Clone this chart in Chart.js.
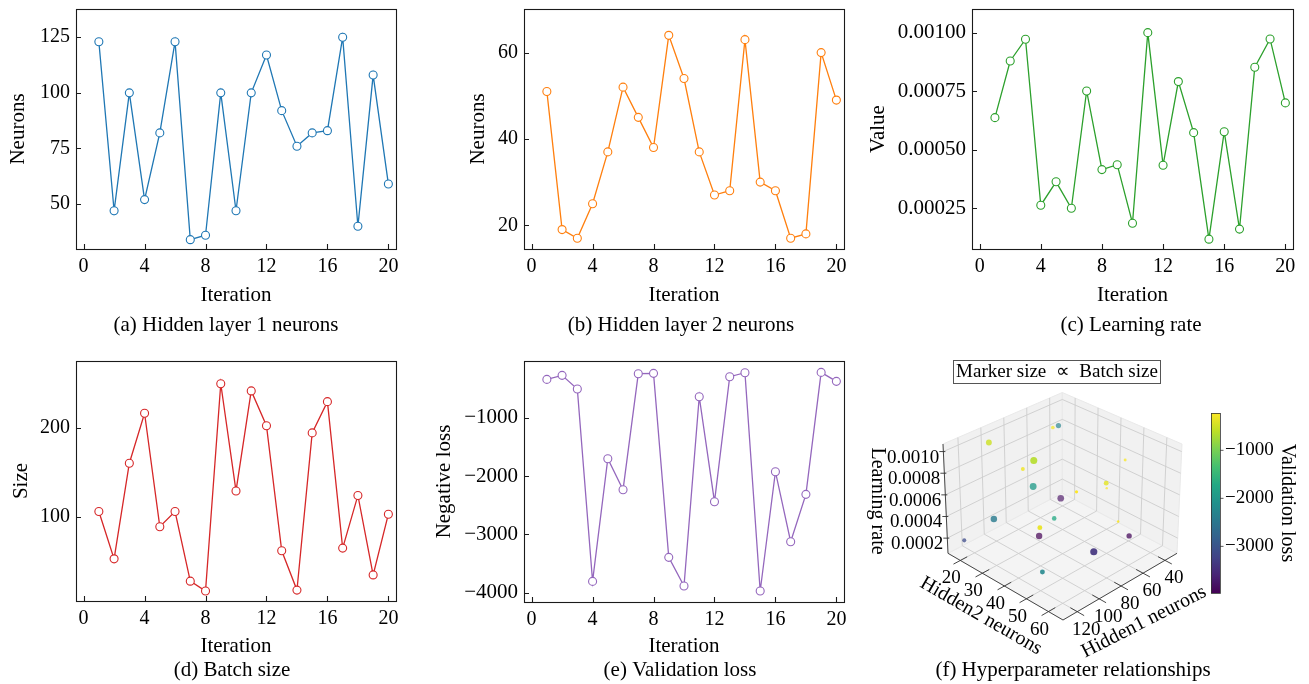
<!DOCTYPE html>
<html>
<head>
<meta charset="utf-8">
<title>Hyperparameter search</title>
<script src="https://cdn.jsdelivr.net/npm/chart.js@4.4.1/dist/chart.umd.min.js"></script>
<style>
  html, body { margin: 0; padding: 0; background: #fff; }
  #wrap { position: relative; width: 1309px; height: 684px; overflow: hidden; }
  #wrap canvas { position: absolute; }
</style>
</head>
<body>
<div id="wrap">
  <canvas id="pa" width="420" height="340" style="left:0;top:0"></canvas>
  <canvas id="pb" width="440" height="340" style="left:420px;top:0"></canvas>
  <canvas id="pc" width="449" height="340" style="left:860px;top:0"></canvas>
  <canvas id="pd" width="420" height="344" style="left:0;top:340px"></canvas>
  <canvas id="pe" width="440" height="344" style="left:420px;top:340px"></canvas>
  <canvas id="pf" width="449" height="344" style="left:860px;top:340px"></canvas>
</div>
<script>
// search history, one entry per iteration
const iterations   = [1, 2, 3, 4, 5, 6, 7, 8, 9, 10, 11, 12, 13, 14, 15, 16, 17, 18, 19, 20];
const hidden1      = [123, 47, 100, 52, 82, 123, 34, 36, 100, 47, 100, 117, 92, 76, 82, 83, 125, 40, 108, 59];
const hidden2      = [51, 19, 17, 25, 37, 52, 45, 38, 64, 54, 37, 27, 28, 63, 30, 28, 17, 18, 60, 49];
const learningRate = [0.000637, 0.000879, 0.000972, 0.000263, 0.000363, 0.00025, 0.000751, 0.000415, 0.000436, 0.000186,
                      0.001, 0.000434, 0.000791, 0.000573, 0.000118, 0.000577, 0.000161, 0.000852, 0.000973, 0.0007];
const batchSize    = [106, 53, 160, 216, 89, 106, 28, 17, 249, 129, 241, 202, 62, 18, 194, 229, 65, 124, 35, 103];
const negLoss      = [-343, -274, -509, -3806, -1703, -2234, -246, -240, -3394, -3886,
                      -640, -2440, -297, -229, -3971, -1926, -3126, -2314, -223, -377];

// tick labels
const iterTicks    = [0, 4, 8, 12, 16, 20];
const hidden1Ticks = [50, 75, 100, 125];
const hidden2Ticks = [20, 40, 60];
const lrTicks      = [0.00025, 0.0005, 0.00075, 0.001];
const batchTicks   = [100, 200];
const lossTicks    = [-4000, -3000, -2000, -1000];
const h1Ticks3d    = [40, 60, 80, 100, 120];
const h2Ticks3d    = [20, 30, 40, 50, 60];
const lrTicks3d    = [0.0002, 0.0004, 0.0006, 0.0008, 0.0010];
const lossBarTicks = [-3000, -2000, -1000];

const SERIF = "'Liberation Serif', 'Times New Roman', Times, serif";
Chart.defaults.font.family = SERIF;
Chart.defaults.color = '#000';

const minus = v => (v < 0 ? '\u2212' : '') + Math.abs(v);

// frame, inward ticks and caption under each panel
const framePlugin = {
  id: 'frame',
  afterDraw(chart, args, opts) {
    const { ctx, chartArea: a, scales } = chart;
    ctx.save();
    ctx.strokeStyle = '#1a1a1a';
    ctx.lineWidth = 1.1;
    ctx.strokeRect(a.left + 0.5, a.top + 0.5, a.right - a.left, a.bottom - a.top);
    ctx.beginPath();
    scales.x.ticks.forEach(t => {
      const px = Math.round(scales.x.getPixelForValue(t.value)) + 0.5;
      ctx.moveTo(px, a.bottom); ctx.lineTo(px, a.bottom - 5);
    });
    scales.y.ticks.forEach(t => {
      const py = Math.round(scales.y.getPixelForValue(t.value)) + 0.5;
      ctx.moveTo(a.left, py); ctx.lineTo(a.left + 5, py);
    });
    ctx.stroke();
    ctx.fillStyle = '#000';
    ctx.font = '21px ' + SERIF;
    ctx.textAlign = 'center';
    ctx.textBaseline = 'middle';
    ctx.fillText(opts.caption, opts.cx, opts.cy);
    ctx.restore();
  }
};

const panels = [
  { id: 'pa', values: hidden1, yTicks: hidden1Ticks, yMin: 29.8, yMax: 137.7, color: '#1f77b4',
    yTitle: 'Neurons', fmt: v => String(v), tickSize: 20, w: 420, h: 340,
    area: { left: 76, right: 396, top: 9, bottom: 249 }, yTitleX: 18, xTitleY: 295,
    caption: '(a) Hidden layer 1 neurons', cap: [226, 325] },
  { id: 'pb', values: hidden2, yTicks: hidden2Ticks, yMin: 14.5, yMax: 70.1, color: '#ff7f0e',
    yTitle: 'Neurons', fmt: v => String(v), tickSize: 20, w: 440, h: 340,
    area: { left: 104, right: 424, top: 9, bottom: 249 }, yTitleX: 58, xTitleY: 295,
    caption: '(b) Hidden layer 2 neurons', cap: [261, 325] },
  { id: 'pc', values: learningRate, yTicks: lrTicks, yMin: 0.000076, yMax: 0.001101, color: '#2ca02c',
    yTitle: 'Value', fmt: v => v.toFixed(5), tickSize: 21, w: 449, h: 340,
    area: { left: 112, right: 433, top: 9, bottom: 249 }, yTitleX: 18, xTitleY: 295,
    caption: '(c) Learning rate', cap: [271, 325] },
  { id: 'pd', values: batchSize, yTicks: batchTicks, yMin: 5.8, yMax: 274.5, color: '#d62728',
    yTitle: 'Size', fmt: v => String(v), tickSize: 20, w: 420, h: 344,
    area: { left: 76, right: 396, top: 21, bottom: 261 }, yTitleX: 21, xTitleY: 306,
    caption: '(d) Batch size', cap: [232, 330] },
  { id: 'pe', values: negLoss, yTicks: lossTicks, yMin: -4159, yMax: -28, color: '#9467bd',
    yTitle: 'Negative loss', fmt: minus, tickSize: 21, w: 440, h: 344,
    area: { left: 104, right: 424, top: 21, bottom: 262 }, yTitleX: 24, xTitleY: 306,
    caption: '(e) Validation loss', cap: [260, 330] }
];

const noGrid = { display: false, drawTicks: false };

panels.forEach(p => {
  new Chart(document.getElementById(p.id), {
    type: 'line',
    data: {
      datasets: [{
        data: iterations.map((it, i) => ({ x: it, y: p.values[i] })),
        borderColor: p.color,
        borderWidth: 1.3,
        pointRadius: 4,
        pointBorderWidth: 1.1,
        pointBorderColor: p.color,
        pointBackgroundColor: '#fff'
      }]
    },
    options: {
      responsive: false,
      animation: false,
      layout: { padding: { left: 0, right: p.w - p.area.right, top: p.area.top, bottom: 0 } },
      scales: {
        x: {
          type: 'linear', min: -0.5, max: 20.5,
          afterBuildTicks: s => { s.ticks = iterTicks.map(v => ({ value: v })); },
          afterFit: s => { s.height = p.h - p.area.bottom; s.paddingLeft = 0; s.paddingRight = 0; },
          grid: noGrid, border: { display: false },
          ticks: { font: { size: 20 }, padding: 6, maxRotation: 0, autoSkip: false, callback: v => String(v) },
          title: { display: true, text: 'Iteration', font: { size: 21 },
                   padding: { top: 0, bottom: p.h - 12.6 - p.xTitleY } }
        },
        y: {
          type: 'linear', min: p.yMin, max: p.yMax,
          afterBuildTicks: s => { s.ticks = p.yTicks.map(v => ({ value: v })); },
          afterFit: s => { s.width = p.area.left; s.paddingTop = 0; s.paddingBottom = 0; },
          grid: noGrid, border: { display: false },
          ticks: { font: { size: p.tickSize }, padding: 6, autoSkip: false, callback: p.fmt },
          title: { display: true, text: p.yTitle, font: { size: 21 },
                   padding: { top: p.yTitleX - 12.6, bottom: 0 } }
        }
      },
      plugins: {
        legend: { display: false },
        tooltip: { enabled: false },
        frame: { caption: p.caption, cx: p.cap[0], cy: p.cap[1] }
      }
    },
    plugins: [framePlugin]
  });
});

// ---- (f) 3D scatter: hidden1 x hidden2 x learning rate ----
const h1Range = [29, 133];
const h2Range = [14.4, 66.6];
const lrRange = [0.00006, 0.00107];
const lossMin = Math.min(...negLoss);
const lossMax = Math.max(...negLoss);

// screen position of each box corner, keyed by (hidden1, hidden2, lr) end
const boxCorners = {
  '000': [202.3, 153.0], '100': [88.0, 213.3], '010': [317.0, 213.3], '110': [203.0, 280.0],
  '001': [202.3, 52.5],  '101': [83.0, 104.0], '011': [322.0, 104.0], '111': [203.0, 161.0]
};

function project(u, v, w) {
  let x = 0, y = 0;
  for (const a of [0, 1]) for (const b of [0, 1]) for (const c of [0, 1]) {
    const wt = (a ? u : 1 - u) * (b ? v : 1 - v) * (c ? w : 1 - w);
    const pt = boxCorners['' + a + b + c];
    x += wt * pt[0];
    y += wt * pt[1];
  }
  return [x, y];
}
const nrm = (val, r) => (val - r[0]) / (r[1] - r[0]);

const viridisStops = ['#440154', '#482475', '#414487', '#355f8d', '#2a788e', '#21918c',
                      '#22a884', '#44bf70', '#7ad151', '#bddf26', '#fde725'];
const hexRgb = h => [1, 3, 5].map(i => parseInt(h.substr(i, 2), 16));
function viridis(t) {
  t = Math.max(0, Math.min(1, t));
  const s = t * 10, i = Math.min(9, Math.floor(s)), f = s - i;
  const a = hexRgb(viridisStops[i]), b = hexRgb(viridisStops[i + 1]);
  return a.map((c, k) => Math.round(c + (b[k] - c) * f));
}

const scenePts = iterations.map((it, i) => {
  const u = nrm(hidden1[i], h1Range), v = nrm(hidden2[i], h2Range), w = nrm(learningRate[i], lrRange);
  const [x, y] = project(u, v, w);
  return { x, y, near: 0.7 * (u + v) + 0.5 * w,
           r: 0.2 * Math.sqrt(batchSize[i]) + 0.4,
           rgb: viridis(nrm(negLoss[i], [lossMin, lossMax])) };
});
const nearMin = Math.min(...scenePts.map(p => p.near));
const nearMax = Math.max(...scenePts.map(p => p.near));
// far points fade a little
scenePts.forEach(p => { p.alpha = 0.65 + 0.35 * (p.near - nearMin) / (nearMax - nearMin); });
scenePts.sort((a, b) => a.near - b.near);

function label(ctx, s, x, y, size, align, rot) {
  ctx.save();
  ctx.translate(x, y);
  ctx.rotate(rot || 0);
  ctx.font = size + 'px ' + SERIF;
  ctx.textAlign = align || 'center';
  ctx.textBaseline = 'middle';
  ctx.fillStyle = '#000';
  ctx.fillText(s, 0, 0);
  ctx.restore();
}

function seg(ctx, p, q) { ctx.moveTo(p[0], p[1]); ctx.lineTo(q[0], q[1]); }

const scenePlugin = {
  id: 'scene3d',
  beforeDatasetsDraw(chart) {
    const ctx = chart.ctx;
    ctx.save();
    const poly = (pts, fill) => {
      ctx.beginPath();
      pts.forEach((c, k) => { const q = project(...c); k ? ctx.lineTo(q[0], q[1]) : ctx.moveTo(q[0], q[1]); });
      ctx.closePath();
      ctx.fillStyle = fill;
      ctx.fill();
      ctx.strokeStyle = '#e9e9e9';
      ctx.lineWidth = 1;
      ctx.stroke();
    };
    poly([[0, 0, 0], [1, 0, 0], [1, 1, 0], [0, 1, 0]], '#f4f4f4');
    poly([[0, 0, 0], [1, 0, 0], [1, 0, 1], [0, 0, 1]], '#f1f1f1');
    poly([[0, 0, 0], [0, 1, 0], [0, 1, 1], [0, 0, 1]], '#f1f1f1');

    ctx.beginPath();
    h1Ticks3d.forEach(t => {
      const u = nrm(t, h1Range);
      seg(ctx, project(u, 0, 0), project(u, 0, 1));
      seg(ctx, project(u, 0, 0), project(u, 1, 0));
    });
    h2Ticks3d.forEach(t => {
      const v = nrm(t, h2Range);
      seg(ctx, project(0, v, 0), project(0, v, 1));
      seg(ctx, project(0, v, 0), project(1, v, 0));
    });
    lrTicks3d.forEach(t => {
      const w = nrm(t, lrRange);
      seg(ctx, project(0, 0, w), project(1, 0, w));
      seg(ctx, project(0, 0, w), project(0, 1, w));
    });
    ctx.strokeStyle = '#cdcdcd';
    ctx.lineWidth = 0.9;
    ctx.stroke();

    // axis lines with their ticks
    ctx.beginPath();
    seg(ctx, project(1, 0, 0), project(1, 1, 0));
    seg(ctx, project(0, 1, 0), project(1, 1, 0));
    seg(ctx, project(1, 0, 0), project(1, 0, 1));
    h1Ticks3d.forEach(t => {
      const u = nrm(t, h1Range), p = project(u, 1, 0), q = project(u, 1.06, 0);
      seg(ctx, [2 * p[0] - q[0], 2 * p[1] - q[1]], q);
    });
    h2Ticks3d.forEach(t => {
      const v = nrm(t, h2Range), p = project(1, v, 0), q = project(1.06, v, 0);
      seg(ctx, [2 * p[0] - q[0], 2 * p[1] - q[1]], q);
    });
    lrTicks3d.forEach(t => {
      const p = project(1, 0, nrm(t, lrRange));
      seg(ctx, [p[0] - 4, p[1]], [p[0] + 2, p[1]]);
    });
    ctx.strokeStyle = '#333';
    ctx.lineWidth = 0.9;
    ctx.stroke();
    ctx.restore();
  },
  afterDatasetsDraw(chart) {
    const ctx = chart.ctx;
    ctx.save();
    h1Ticks3d.forEach(t => {
      const p = project(nrm(t, h1Range), 1, 0);
      label(ctx, String(t), p[0] + 9, p[1] + 18, 19);
    });
    h2Ticks3d.forEach(t => {
      const p = project(1, nrm(t, h2Range), 0);
      label(ctx, String(t), p[0] - 9, p[1] + 18, 19);
    });
    lrTicks3d.forEach(t => {
      const p = project(1, 0, nrm(t, lrRange));
      label(ctx, t.toFixed(4), p[0] - 4, p[1] + 6, 19, 'right');
    });
    label(ctx, 'Hidden1 neurons', 284, 282, 20, 'center', -27 * Math.PI / 180);
    label(ctx, 'Hidden2 neurons', 121, 276, 20, 'center', 30 * Math.PI / 180);
    label(ctx, 'Learning rate', 17, 161, 20, 'center', Math.PI / 2);

    // colour bar for validation loss
    const cb = { left: 351, right: 360, top: 73, bottom: 253 };
    const grad = ctx.createLinearGradient(0, cb.bottom, 0, cb.top);
    viridisStops.forEach((c, k) => grad.addColorStop(k / 10, c));
    ctx.fillStyle = grad;
    ctx.fillRect(cb.left, cb.top, cb.right - cb.left, cb.bottom - cb.top);
    ctx.strokeStyle = '#333';
    ctx.lineWidth = 0.8;
    ctx.strokeRect(cb.left + 0.5, cb.top + 0.5, cb.right - cb.left, cb.bottom - cb.top);
    ctx.beginPath();
    lossBarTicks.forEach(t => {
      const y = cb.top + (lossMax - t) / (lossMax - lossMin) * (cb.bottom - cb.top);
      seg(ctx, [cb.right, y], [cb.right + 3.5, y]);
      label(ctx, minus(t), cb.right + 5, y, 19, 'left');
    });
    ctx.stroke();
    label(ctx, 'Validation loss', 427, 163, 20, 'center', Math.PI / 2);

    // marker size note
    ctx.fillStyle = '#fff';
    ctx.fillRect(93.5, 20.5, 207, 23);
    ctx.strokeStyle = '#555';
    ctx.lineWidth = 1;
    ctx.strokeRect(93.5, 20.5, 207, 23);
    label(ctx, 'Marker size  \u221D  Batch size', 197, 32, 19);

    label(ctx, '(f) Hyperparameter relationships', 213, 330, 21);
    ctx.restore();
  }
};

new Chart(document.getElementById('pf'), {
  type: 'scatter',
  data: {
    datasets: [{
      data: scenePts.map(p => ({ x: p.x, y: p.y })),
      pointRadius: scenePts.map(p => p.r),
      pointBorderWidth: 0,
      pointBackgroundColor: scenePts.map(p => `rgba(${p.rgb.join(',')},${p.alpha.toFixed(2)})`)
    }]
  },
  options: {
    responsive: false,
    animation: false,
    layout: { padding: 0 },
    scales: {
      x: { type: 'linear', min: 0, max: 449, display: false },
      y: { type: 'linear', min: 0, max: 344, reverse: true, display: false }
    },
    plugins: { legend: { display: false }, tooltip: { enabled: false } }
  },
  plugins: [scenePlugin]
});
</script>
</body>
</html>
